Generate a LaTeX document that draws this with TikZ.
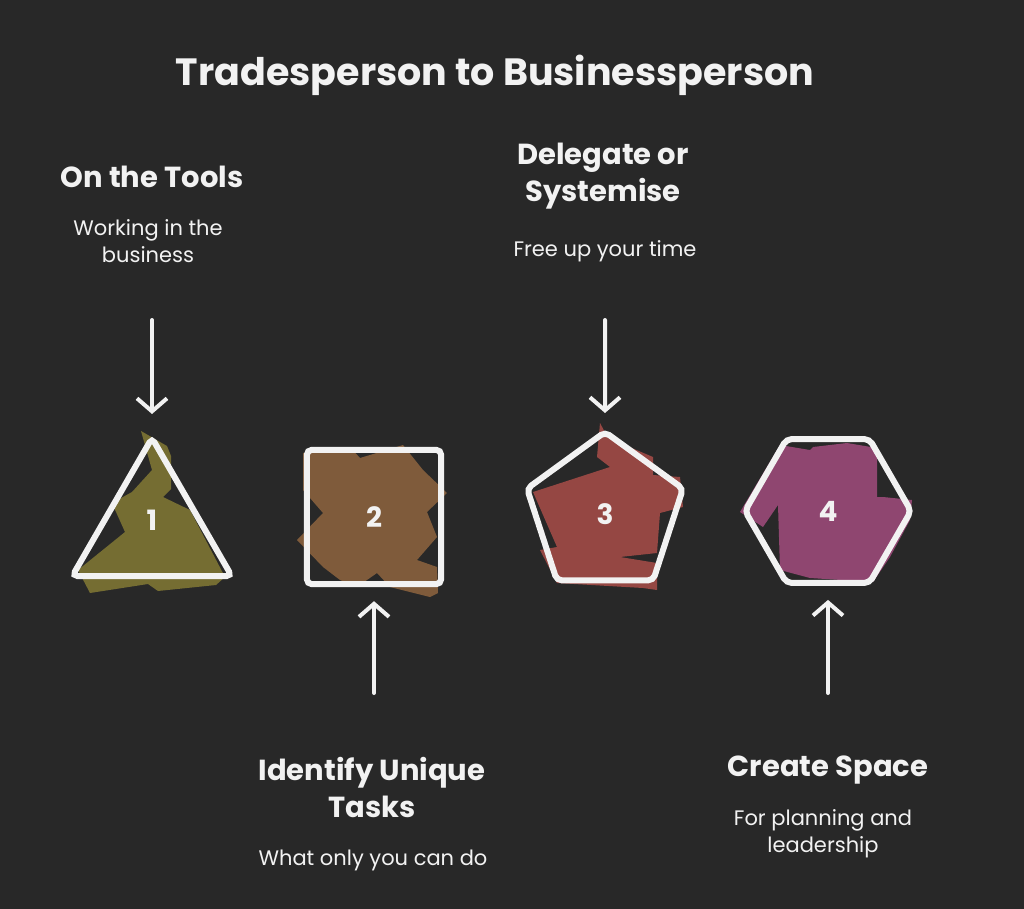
\documentclass[tikz,border=0pt]{standalone}
\usepackage{fontspec}
\setmainfont{Poppins}
\usetikzlibrary{shapes.geometric,arrows.meta}
\definecolor{bg}{HTML}{282828}
\definecolor{fg}{HTML}{F2F2F2}
\definecolor{olive}{HTML}{756D32}
\definecolor{brown}{HTML}{7F5B3B}
\definecolor{brick}{HTML}{954743}
\definecolor{plum}{HTML}{8F4670}
\tikzset{
  shapebox/.style={regular polygon, draw=fg, line width=6pt, rounded corners=5pt, inner sep=0pt, outer sep=0pt, text=fg, font=\bfseries\fontsize{28}{30}\selectfont},
  heading/.style={text=fg, align=center, font=\bfseries\fontsize{29}{37}\selectfont, inner sep=0pt},
  body/.style={text=fg, align=center, font=\fontsize{21}{27}\selectfont, inner sep=0pt},
  arr/.style={draw=fg, line width=4pt, line cap=round, -{Straight Barb[length=13pt,width=30pt,line width=4pt]}},
}
\begin{document}
\begin{tikzpicture}[x=1pt,y=-1pt]
\fill[bg] (0,0) rectangle (1024,909);
\useasboundingbox (0,0) rectangle (1024,909);

\node[text=fg, font=\bfseries\fontsize{38}{40}\selectfont, inner sep=0pt] (title) at (495,75) {Tradesperson to Businessperson};

% scribble fills
\fill[olive] (141,431) -- (167,446) -- (171,456) -- (171,489) -- (163,497) -- (190,510) -- (225,577) -- (216,585) -- (158,591) -- (148,584) -- (90,593) -- (78,570) -- (125,532) -- (112,503) -- (132,492) -- (152,470) -- cycle;
\fill[brown] (303,453) -- (350,447) -- (360,458) -- (403,445) -- (423,470) -- (447,493) -- (427,512) -- (437,537) -- (417,560) -- (437,567) -- (438,593) -- (430,597) -- (390,587) -- (377,573) -- (357,587) -- (340,580) -- (323,567) -- (297,540) -- (323,513) -- (303,490) -- cycle;
\fill[brick] (600,423) -- (608,438) -- (653,457) -- (653,475) -- (680,477) -- (683,507) -- (660,513) -- (657,553) -- (620,557) -- (657,563) -- (657,590) -- (643,588) -- (557,583) -- (540,550) -- (557,547) -- (533,492) -- (610,467) -- (597,457) -- cycle;
\fill[plum] (740,512) -- (780,445) -- (810,450) -- (813,447) -- (847,443) -- (877,448) -- (877,497) -- (883,497) -- (912,500) -- (910,520) -- (890,557) -- (873,582) -- (810,578) -- (780,570) -- (778,505) -- (763,527) -- cycle;

% shapes
\node[shapebox, regular polygon sides=3, minimum size=184pt] (s1) at (152,530) {};
\node[text=fg, font=\bfseries\fontsize{28}{30}\selectfont] (n1) at (152,520) {1};
\node[shapebox, regular polygon sides=4, minimum size=190pt] (s2) at (374,517) {2};
\node[shapebox, regular polygon sides=5, minimum size=164pt] (s3) at (605,514) {3};
\node[shapebox, regular polygon sides=6, minimum size=166pt] (s4) at (828,511) {4};

% labels
\node[heading] (h1) at (152,177) {On the Tools};
\node[body] (b1) at (148,241) {Working in the\\business};
\node[heading] (h2) at (372,787) {Identify Unique\\Tasks};
\node[body] (b2) at (373,860) {What only you can do};
\node[heading] (h3) at (603,176) {Delegate or\\Systemise};
\node[body] (b3) at (605,251) {Free up your time};
\node[heading] (h4) at (828,770) {Create Space};
\node[body] (b4) at (823,834) {For planning and\\leadership};

% connectors
\coordinate (c1) at (152,320);
\coordinate (c2) at (374,693);
\coordinate (c3) at (605,320);
\coordinate (c4) at (828,693);
\draw[arr, shorten >=24pt] (c1) -- (s1.north);
\draw[arr, shorten >=17pt] (c2) -- (s2.south);
\draw[arr, shorten >=19pt] (c3) -- (s3.north);
\draw[arr, shorten >=17pt] (c4) -- (s4.south);
\end{tikzpicture}
\end{document}
